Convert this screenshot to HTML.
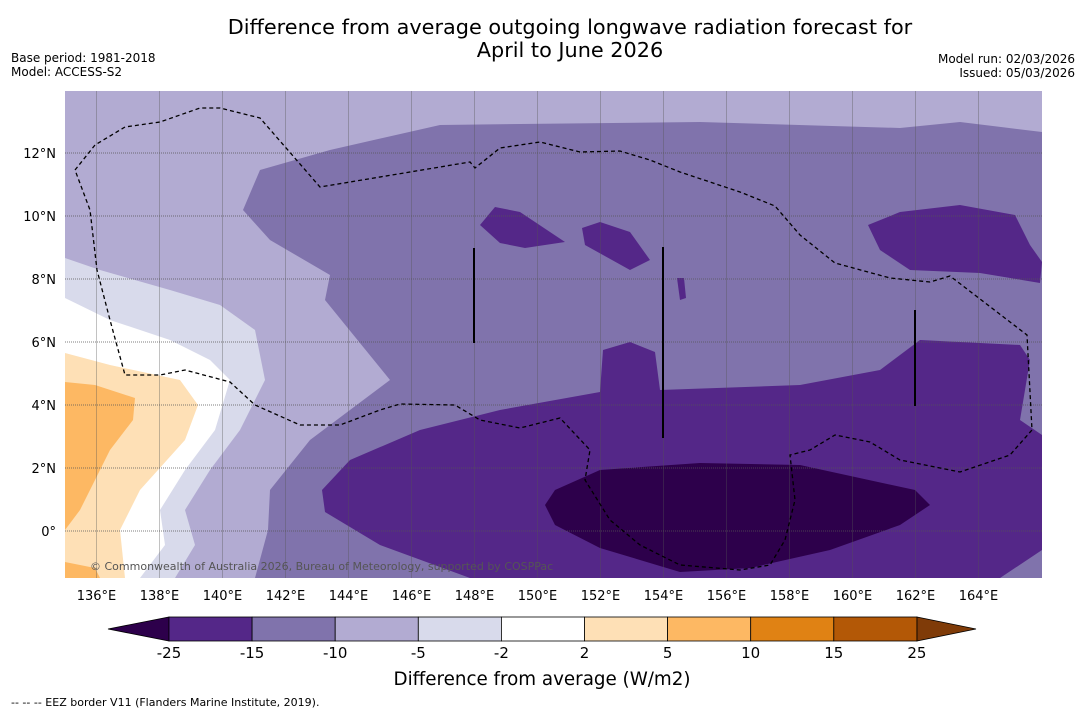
<!DOCTYPE html>
<html><head><meta charset="utf-8"><style>
body{margin:0;background:#fff;font-family:"Liberation Sans","DejaVu Sans",sans-serif;}
svg{display:block}
</style></head><body>
<svg width="1085" height="713" viewBox="0 0 1085 713" xmlns="http://www.w3.org/2000/svg" font-family="'DejaVu Sans','Liberation Sans',sans-serif">
<text x="570" y="34" text-anchor="middle" font-size="20.8">Difference from average outgoing longwave radiation forecast for</text>
<text x="570" y="57" text-anchor="middle" font-size="20.8">April to June 2026</text>
<text x="11" y="62" font-size="12">Base period: 1981-2018</text>
<text x="11" y="76" font-size="12">Model: ACCESS-S2</text>
<text x="1075" y="63" font-size="12" text-anchor="end">Model run: 02/03/2026</text>
<text x="1075" y="77" font-size="12" text-anchor="end">Issued: 05/03/2026</text>
<defs><clipPath id="mc"><rect x="65" y="91" width="977" height="487"/></clipPath></defs>
<g id="map" clip-path="url(#mc)"></g>
<g id="axes"></g>
<g id="cbar"></g>
<text x="542" y="685" text-anchor="middle" font-size="18.3">Difference from average (W/m2)</text>
<text x="11" y="706" font-size="11">--  --  -- EEZ border V11 (Flanders Marine Institute, 2019).</text>
</svg>
<script>
const NS="http://www.w3.org/2000/svg";
const lonTicks=[136,138,140,142,144,146,148,150,152,154,156,158,160,162,164];
const latTicks=[0,2,4,6,8,10,12];
const levels=["-25","-15","-10","-5","-2","2","5","10","15","25"];
const colors=["#542788","#8073ac","#b2abd2","#d8daeb","#ffffff","#fee0b6","#fdb863","#e08214","#b35806"];
const X=lon=>65+(lon-135)*31.5, Y=lat=>531-lat*31.5;
const map=document.getElementById('map');
function poly(pts,fill,name){const p=document.createElementNS(NS,'polygon');
p.setAttribute('points',pts.map(q=>q.join(',')).join(' '));p.setAttribute('fill',fill);


map.appendChild(p);}
function px(a){const r=[];for(let i=0;i<a.length;i+=2)r.push([a[i],a[i+1]]);return r;}
const bg=document.createElementNS(NS,'rect');bg.setAttribute('x',65);bg.setAttribute('y',91);bg.setAttribute('width',977);bg.setAttribute('height',487);bg.setAttribute('fill','#b2abd2');map.appendChild(bg);
poly(px([440,125,520,124,700,122,900,128,960,122,1042,132,1042,578,255,578,268,530,270,490,310,440,390,380,325,300,330,275,270,240,243,210,260,170,330,150]),'#8073ac','contour-minus15');
poly(px([322,490,350,460,420,430,500,410,600,392,603,350,630,342,655,352,660,390,800,385,880,370,920,340,1020,345,1030,360,1020,420,1042,435,1042,550,1000,578,470,578,380,545,325,512]),'#542788','contour-minus25');
poly(px([480,225,495,207,520,212,565,242,525,248,500,243]),'#542788','blob-a');
poly(px([582,228,600,222,630,232,650,260,630,270,585,245]),'#542788','blob-b');
poly(px([868,225,900,212,960,205,1015,215,1030,245,1042,262,1040,283,980,273,910,270,880,250]),'#542788','blob-c');
poly(px([677,278,684,278,686,298,680,300]),'#542788','blob-d');
poly(px([545,505,555,490,600,470,700,463,800,465,915,490,930,505,900,525,830,550,750,568,680,572,600,548,555,525]),'#2d004b','contour-dark');
poly(px([65,258,100,270,170,290,220,305,255,330,265,380,240,430,210,470,185,510,195,545,175,578,65,578]),'#d8daeb','contour-minus5');
poly(px([65,298,110,320,170,340,210,360,230,380,215,430,185,470,160,510,165,545,140,578,65,578]),'#ffffff','contour-zero');
poly(px([65,353,110,365,180,380,198,405,185,440,140,490,120,530,125,578,65,578]),'#fee0b6','contour-plus5');
poly(px([65,382,95,385,135,398,133,420,110,450,80,510,65,530]),'#fdb863','contour-plus10');
poly(px([65,562,95,568,100,578,65,578]),'#fdb863','contour-plus10-b');
lonTicks.forEach(l=>{const g=document.createElementNS(NS,'line');g.setAttribute('x1',X(l));g.setAttribute('x2',X(l));g.setAttribute('y1',91);g.setAttribute('y2',578);g.setAttribute('stroke','#555');g.setAttribute('stroke-width','0.6');g.setAttribute('stroke-opacity','0.6');

map.appendChild(g);});
latTicks.forEach(l=>{const g=document.createElementNS(NS,'line');g.setAttribute('x1',65);g.setAttribute('x2',1042);g.setAttribute('y1',Y(l));g.setAttribute('y2',Y(l));g.setAttribute('stroke','#555');g.setAttribute('stroke-width','0.7');g.setAttribute('stroke-dasharray','1,1');

map.appendChild(g);});
const eez=[75,170,95,145,125,127,160,122,200,108,220,108,260,118,320,187,470,162,475,168,500,148,540,142,580,152,620,151,650,160,680,172,740,192,775,206,800,235,835,263,890,278,930,282,950,276,1027,335,1032,430,1010,455,960,472,900,460,870,442,835,435,810,450,790,455,795,500,785,540,770,565,740,570,680,565,640,545,610,520,585,480,590,450,560,418,520,428,480,420,455,405,400,404,380,410,340,425,300,425,255,405,230,382,185,370,160,375,125,375,110,320,97,270,90,210,75,170];
const e=document.createElementNS(NS,'polyline');e.setAttribute('points',px(eez).map(q=>q.join(',')).join(' '));e.setAttribute('fill','none');e.setAttribute('stroke','#000');e.setAttribute('stroke-width','1.3');e.setAttribute('stroke-dasharray','4,3');

map.appendChild(e);
[[474,248,343],[663,247,438],[915,310,406]].forEach(v=>{const l=document.createElementNS(NS,'line');l.setAttribute('x1',v[0]);l.setAttribute('x2',v[0]);l.setAttribute('y1',v[1]);l.setAttribute('y2',v[2]);l.setAttribute('stroke','#000');l.setAttribute('stroke-width','2');

map.appendChild(l);});
const c=document.createElementNS(NS,'text');c.setAttribute('x',90);c.setAttribute('y',570);c.setAttribute('font-size','11');c.setAttribute('fill','#555');c.textContent='© Commonwealth of Australia 2026, Bureau of Meteorology, supported by COSPPac';

map.appendChild(c);
const ax=document.getElementById('axes');
lonTicks.forEach(l=>{const t=document.createElementNS(NS,'text');t.setAttribute('x',X(l));t.setAttribute('y',600);t.setAttribute('text-anchor','middle');t.setAttribute('font-size','13');t.textContent=l+'°E';

ax.appendChild(t);});
latTicks.forEach(l=>{const t=document.createElementNS(NS,'text');t.setAttribute('x',56);t.setAttribute('y',Y(l)+5);t.setAttribute('text-anchor','end');t.setAttribute('font-size','13');t.textContent=l===0?'0°':l+'°N';

ax.appendChild(t);});
const cb=document.getElementById('cbar');const x0=169,w=83.1,y0=617,h=24;
function cpoly(pts,fill,name){const p=document.createElementNS(NS,'polygon');p.setAttribute('points',pts);p.setAttribute('fill',fill);p.setAttribute('stroke','#000');p.setAttribute('stroke-width','0.8');

cb.appendChild(p);}
cpoly(`108,${y0+h/2} ${x0},${y0} ${x0},${y0+h}`,'#2d004b','colorbar-low-extend');
cpoly(`976,${y0+h/2} ${x0+9*w},${y0} ${x0+9*w},${y0+h}`,'#7f3b08','colorbar-high-extend');
colors.forEach((col,i)=>{const r=document.createElementNS(NS,'rect');r.setAttribute('x',x0+i*w);r.setAttribute('y',y0);r.setAttribute('width',w);r.setAttribute('height',h);r.setAttribute('fill',col);r.setAttribute('stroke','#000');r.setAttribute('stroke-width','0.8');

cb.appendChild(r);});
levels.forEach((lv,i)=>{const t=document.createElementNS(NS,'text');t.setAttribute('x',x0+i*w);t.setAttribute('y',658);t.setAttribute('text-anchor','middle');t.setAttribute('font-size','15');t.textContent=lv;

cb.appendChild(t);});
</script>
</body></html>
